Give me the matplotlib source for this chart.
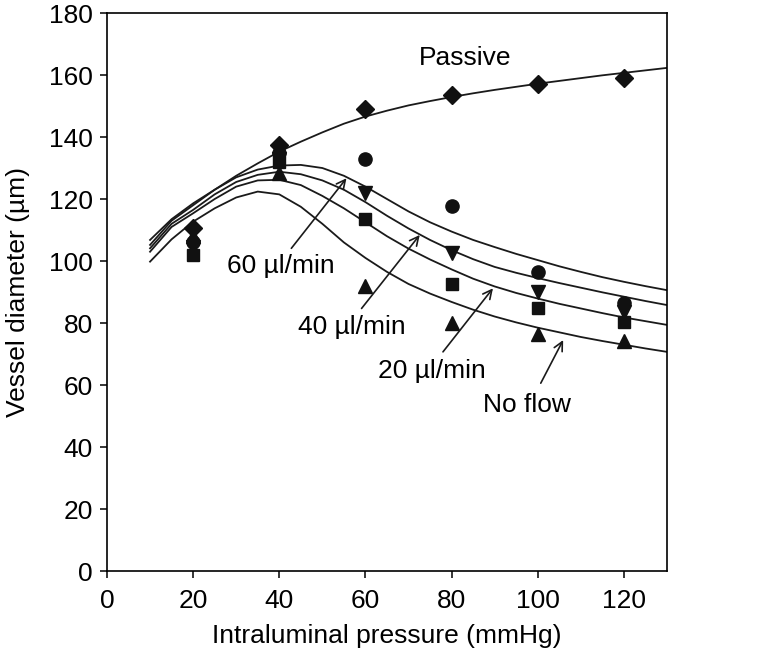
import numpy as np
import matplotlib
matplotlib.use('Agg')
import matplotlib.pyplot as plt

plt.rcParams['font.family'] = ['Liberation Sans', 'DejaVu Sans']

# measured points
pressure = [20, 40, 60, 80, 100, 120]
passive_pts = [110.5, 137.4, 149.0, 153.5, 157.0, 158.9]
flow60_pts = [106.0, 135.0, 133.0, 117.8, 96.3, 86.6]
flow40_pts = [104.5, 133.0, 122.0, 102.5, 90.1, 83.5]
flow20_pts = [102.0, 131.8, 113.5, 92.5, 84.9, 80.3]
noflow_pts = [108.0, 128.4, 92.0, 79.9, 76.3, 74.2]

# model curves
curve_p = [10, 15, 20, 25, 30, 35, 40, 45, 50, 55, 60, 65, 70, 75, 80, 85,
           90, 95, 100, 105, 110, 115, 120, 125, 130]
passive_curve = [106.8, 113.5, 118.6, 123.0, 127.5, 131.5, 135.3, 138.5, 141.5, 144.3,
                 146.6, 148.5, 150.2, 151.6, 152.9, 154.1, 155.2, 156.2, 157.2, 158.1,
                 159.0, 159.9, 160.7, 161.5, 162.3]
flow60_curve = [105.2, 113.0, 118.0, 123.0, 127.0, 129.5, 130.8, 131.0, 130.0, 127.5,
                124.0, 120.0, 116.0, 112.5, 109.5, 106.8, 104.5, 102.3, 100.3, 98.3,
                96.5, 94.8, 93.3, 91.9, 90.6]
flow40_curve = [104.1, 112.0, 116.5, 121.5, 125.5, 127.8, 128.8, 128.0, 126.0, 123.0,
                119.0, 114.6, 110.5, 106.8, 103.5, 100.6, 98.1, 96.2, 94.5, 92.9,
                91.4, 89.9, 88.5, 87.1, 85.8]
flow20_curve = [103.0, 111.0, 115.4, 120.0, 124.0, 126.0, 126.2, 124.5, 121.0, 117.0,
                112.5, 108.0, 104.0, 100.5, 97.3, 94.3, 91.8, 89.7, 87.9, 86.2,
                84.7, 83.2, 81.8, 80.6, 79.4]
noflow_curve = [99.8, 107.0, 112.7, 117.0, 120.5, 122.4, 121.5, 117.5, 112.0, 106.0,
                101.0, 96.5, 92.6, 89.5, 86.8, 84.3, 82.1, 80.2, 78.5, 77.0,
                75.5, 74.2, 73.0, 71.8, 70.7]

fig = plt.figure(figsize=(7.78, 6.64), dpi=100)
ax = fig.add_axes([0.1375, 0.140, 0.7198, 0.8404])

for c in [passive_curve, flow60_curve, flow40_curve, flow20_curve, noflow_curve]:
    ax.plot(curve_p, c, color='#1a1a1a', lw=1.3)

ax.plot(pressure, passive_pts, 'D', color='#111111', ms=9, ls='none')
ax.plot(pressure, flow60_pts, 'o', color='#111111', ms=9.5, ls='none')
ax.plot(pressure, flow40_pts, 'v', color='#111111', ms=9.5, ls='none')
ax.plot(pressure, flow20_pts, 's', color='#111111', ms=8, ls='none')
ax.plot(pressure, noflow_pts, '^', color='#111111', ms=9.5, ls='none')

ax.text(83.2, 165.4, 'Passive', fontsize=19, ha='center', va='center')

labels = ['60 µl/min', '40 µl/min', '20 µl/min', 'No flow']
label_xy = [(40.3, 98.4), (56.8, 78.8), (75.5, 64.4), (97.5, 53.5)]
arrow_tail = [(42.8, 104.1), (59.1, 84.7), (78.0, 70.7), (100.7, 60.6)]
arrow_head = [(55.6, 126.7), (72.6, 108.4), (89.6, 91.2), (105.9, 74.5)]
for lab, xy, t, h in zip(labels, label_xy, arrow_tail, arrow_head):
    ax.text(xy[0], xy[1], lab, fontsize=19, ha='center', va='center')
    ax.annotate('', xy=h, xytext=t,
                arrowprops=dict(arrowstyle='->', lw=1.2, color='#1a1a1a',
                                mutation_scale=16, shrinkA=0, shrinkB=0))

ax.set_xlim(0, 130)
ax.set_ylim(0, 180)
ax.set_xticks(np.arange(0, 121, 20))
ax.set_yticks(np.arange(0, 181, 20))
ax.tick_params(direction='out', length=5, width=1.1, labelsize=19)
ax.tick_params(axis='x', pad=8)
ax.tick_params(axis='y', pad=5)
for s in ax.spines.values():
    s.set_linewidth(1.2)
ax.set_xlabel('Intraluminal pressure (mmHg)', fontsize=19, labelpad=8)
ax.set_ylabel('Vessel diameter (µm)', fontsize=19, labelpad=14)

fig.savefig('out.png', dpi=100)
